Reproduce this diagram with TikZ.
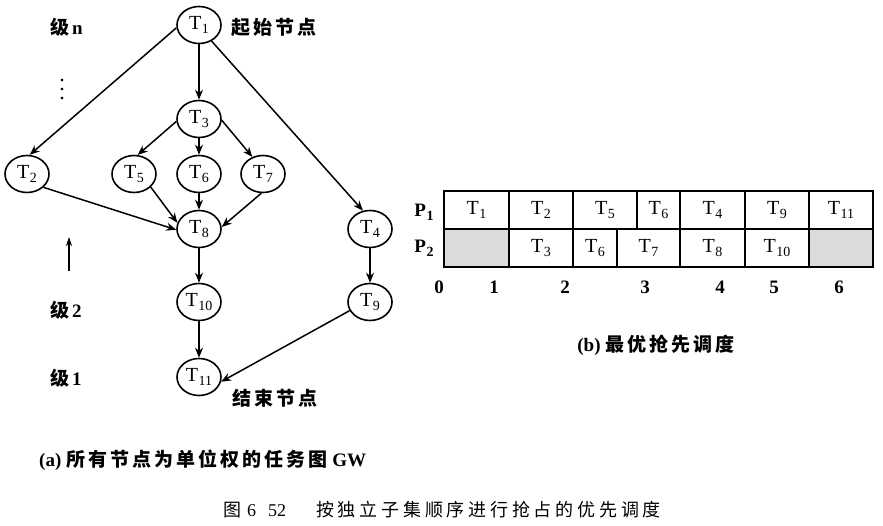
\documentclass[tikz,border=0pt]{standalone}
\usepackage{fontspec}
\setmainfont{Liberation Serif}
\newfontfamily\cjk[LetterSpace=16]{Noto Sans CJK SC}
\newfontfamily\cjkc[LetterSpace=21]{Noto Sans CJK SC}
\usetikzlibrary{shapes.geometric,arrows.meta}
\newcommand\Tn[1]{T\kern0.5pt\raisebox{-4pt}{\fontsize{14}{14}\selectfont #1}}
\newcommand\Pn[1]{P\kern0.5pt\raisebox{-4pt}{\fontsize{14}{14}\selectfont #1}}
\begin{document}
\begin{tikzpicture}[x=1pt,y=-1pt,
  task/.style={ellipse,draw,line width=1.6pt,minimum width=44pt,minimum height=37pt,inner sep=0pt,font=\fontsize{20}{20}\selectfont},
  edge/.style={line width=1.5pt,-{Stealth[length=10pt,width=8pt]}},
  lbl/.style={font=\fontsize{19}{19}\selectfont\bfseries,inner sep=0pt},
  cell/.style={draw,line width=1.8pt,inner sep=0pt,minimum height=38pt,font=\fontsize{20}{20}\selectfont},
  idle/.style={cell,fill=gray!28},
]
\useasboundingbox (0,0) rectangle (883,525);
% task graph
\node[task] (t1) at (199,25) {\Tn{1}};
\node[task] (t3) at (199,119) {\Tn{3}};
\node[task] (t2) at (27,174) {\Tn{2}};
\node[task] (t5) at (134,174) {\Tn{5}};
\node[task] (t6) at (199,174) {\Tn{6}};
\node[task] (t7) at (263,174) {\Tn{7}};
\node[task] (t8) at (199,229) {\Tn{8}};
\node[task] (t4) at (370,229) {\Tn{4}};
\node[task] (t10) at (199,302) {\Tn{10}};
\node[task] (t9) at (370,302) {\Tn{9}};
\node[task] (t11) at (199,377) {\Tn{11}};
\draw[edge] (t1.187) -- (t2.82);
\draw[edge] (t1) -- (t3);
\draw[edge] (t1.-52) -- (t4.111);
\draw[edge] (t3.186) -- (t5.79);
\draw[edge] (t3) -- (t6);
\draw[edge] (t3.-3) -- (t7.122);
\draw[edge] (t2.-39) -- (t8.182);
\draw[edge] (t5.-38) -- (t8.164);
\draw[edge] (t6) -- (t8);
\draw[edge] (t7.-95) -- (t8.5);
\draw[edge] (t8) -- (t10);
\draw[edge] (t4) -- (t9);
\draw[edge] (t10) -- (t11);
\draw[edge] (t9.203) -- (t11.-12);
% level labels
\node[lbl,anchor=west] (ln) at (50,27) {{\cjk 级}\hspace{3pt}n};
\node[scale=2.2,inner sep=0pt] (dots) at (62,83) {$\vdots$};
\coordinate (upb) at (69,271);
\coordinate (upt) at (69,237);
\draw[line width=1.3pt,-{Stealth[length=9pt,width=6pt]}] (upb) -- (upt);
\node[lbl,anchor=west] (l2) at (50,310) {{\cjk 级}\hspace{3pt}2};
\node[lbl,anchor=west] (l1) at (50,378) {{\cjk 级}\hspace{3pt}1};
\node[lbl,anchor=west] (start) at (231,27) {\cjk 起始节点};
\node[lbl,anchor=west] (end) at (232,398) {\cjk 结束节点};
\node[lbl,anchor=west] (capa) at (39,460) {(a) {\cjk 所有节点为单位权的任务图} GW};
% gantt chart
\node[cell,minimum width=65pt] (a1) at (476.5,210) {\Tn{1}};
\node[cell,minimum width=64pt] (a2) at (541,210) {\Tn{2}};
\node[cell,minimum width=64pt] (a3) at (605,210) {\Tn{5}};
\node[cell,minimum width=43pt] (a4) at (658.5,210) {\Tn{6}};
\node[cell,minimum width=65pt] (a5) at (712.5,210) {\Tn{4}};
\node[cell,minimum width=64pt] (a6) at (777,210) {\Tn{9}};
\node[cell,minimum width=64pt] (a7) at (841,210) {\Tn{11}};
\node[idle,minimum width=65pt] (b1) at (476.5,248) {};
\node[cell,minimum width=64pt] (b2) at (541,248) {\Tn{3}};
\node[cell,minimum width=44pt] (b3) at (595,248) {\Tn{6}};
\node[cell,minimum width=63pt] (b4) at (648.5,248) {\Tn{7}};
\node[cell,minimum width=65pt] (b5) at (712.5,248) {\Tn{8}};
\node[cell,minimum width=64pt] (b6) at (777,248) {\Tn{10}};
\node[idle,minimum width=64pt] (b7) at (841,248) {};
\node[lbl] (p1) at (424,212) {\Pn{1}};
\node[lbl] (p2) at (424,248) {\Pn{2}};
\node[lbl] (x0) at (439,287) {0};
\node[lbl] (x1) at (494,287) {1};
\node[lbl] (x2) at (565,287) {2};
\node[lbl] (x3) at (645,287) {3};
\node[lbl] (x4) at (720,287) {4};
\node[lbl] (x5) at (774,287) {5};
\node[lbl] (x6) at (839,287) {6};
\node[lbl] (capb) at (656,345) {(b) {\cjk 最优抢先调度}};
% figure caption
\node[anchor=west,inner sep=0pt,font=\fontsize{18}{18}\selectfont] (cap) at (223,510) {{\cjkc 图}\hspace{6pt}6\hspace{12pt}52\hspace{30pt}{\cjkc 按独立子集顺序进行抢占的优先调度}};
\end{tikzpicture}
\end{document}
